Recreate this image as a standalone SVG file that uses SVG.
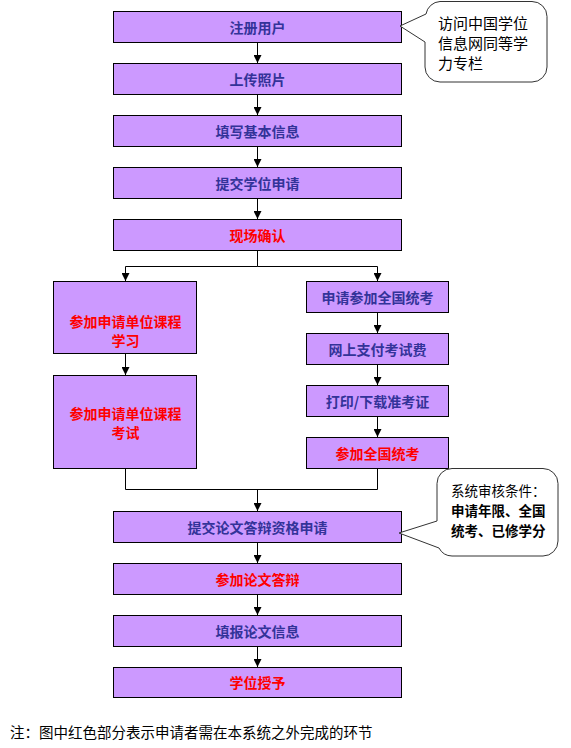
<svg xmlns="http://www.w3.org/2000/svg" width="571" height="748" viewBox="0 0 571 748">
<style>
.box{fill:#cc99ff;stroke:#000;stroke-width:1}
.t{font-family:"Noto Sans CJK SC","Liberation Sans",sans-serif;font-size:14px;font-weight:bold;text-anchor:middle;dominant-baseline:central}
.b{fill:#333399}
.r{fill:#ff0000}
.c{fill:none;stroke:#000;stroke-width:1}
.call{fill:#fff;stroke:#333;stroke-width:1}
.ct{font-family:"Noto Sans CJK SC","Liberation Sans",sans-serif;fill:#000;dominant-baseline:central}
</style>
<defs>
<marker id="ah" markerUnits="userSpaceOnUse" markerWidth="8" markerHeight="8" refX="8" refY="4" orient="auto">
<path d="M0,0 L8,4 L0,8 Z" fill="#000"/>
</marker>
</defs>
<rect width="571" height="748" fill="#fff"/>
<g id="connectors">
<line class="c" x1="257.5" y1="43" x2="257.5" y2="63" marker-end="url(#ah)"/>
<line class="c" x1="257.5" y1="95" x2="257.5" y2="115" marker-end="url(#ah)"/>
<line class="c" x1="257.5" y1="147" x2="257.5" y2="167" marker-end="url(#ah)"/>
<line class="c" x1="257.5" y1="199" x2="257.5" y2="219" marker-end="url(#ah)"/>
<polyline class="c" points="257.5,251 257.5,266.5 125.5,266.5 125.5,281" marker-end="url(#ah)"/>
<polyline class="c" points="257.5,266.5 377.5,266.5 377.5,281" marker-end="url(#ah)"/>
<line class="c" x1="125.5" y1="354" x2="125.5" y2="375" marker-end="url(#ah)"/>
<line class="c" x1="377.5" y1="313" x2="377.5" y2="333" marker-end="url(#ah)"/>
<line class="c" x1="377.5" y1="365" x2="377.5" y2="385" marker-end="url(#ah)"/>
<line class="c" x1="377.5" y1="417" x2="377.5" y2="437" marker-end="url(#ah)"/>
<polyline class="c" points="125.5,469 125.5,489.5 377.5,489.5 377.5,469"/>
<line class="c" x1="257.5" y1="489.5" x2="257.5" y2="511" marker-end="url(#ah)"/>
<line class="c" x1="257.5" y1="543" x2="257.5" y2="563" marker-end="url(#ah)"/>
<line class="c" x1="257.5" y1="595" x2="257.5" y2="615" marker-end="url(#ah)"/>
<line class="c" x1="257.5" y1="647" x2="257.5" y2="667" marker-end="url(#ah)"/>
</g>
<g id="n1"><rect class="box" x="113.5" y="11.5" width="288" height="31"/><text class="t b" x="257.5" y="27">注册用户</text></g>
<g id="n2"><rect class="box" x="113.5" y="63.5" width="288" height="31"/><text class="t b" x="257.5" y="79">上传照片</text></g>
<g id="n3"><rect class="box" x="113.5" y="115.5" width="288" height="31"/><text class="t b" x="257.5" y="131">填写基本信息</text></g>
<g id="n4"><rect class="box" x="113.5" y="167.5" width="288" height="31"/><text class="t b" x="257.5" y="183">提交学位申请</text></g>
<g id="n5"><rect class="box" x="113.5" y="219.5" width="288" height="31"/><text class="t r" x="257.5" y="235">现场确认</text></g>
<g id="n6"><rect class="box" x="53.5" y="281.5" width="143" height="72"/><text class="t r" x="125.5" y="321">参加申请单位课程</text><text class="t r" x="125.5" y="340">学习</text></g>
<g id="n7"><rect class="box" x="53.5" y="375.5" width="143" height="93"/><text class="t r" x="125.5" y="413">参加申请单位课程</text><text class="t r" x="125.5" y="432">考试</text></g>
<g id="n8"><rect class="box" x="306.5" y="281.5" width="142" height="31"/><text class="t b" x="377.5" y="297">申请参加全国统考</text></g>
<g id="n9"><rect class="box" x="306.5" y="333.5" width="142" height="31"/><text class="t b" x="377.5" y="349">网上支付考试费</text></g>
<g id="n10"><rect class="box" x="306.5" y="385.5" width="142" height="31"/><text class="t b" x="377.5" y="401">打印/下载准考证</text></g>
<g id="n11"><rect class="box" x="306.5" y="437.5" width="142" height="31"/><text class="t r" x="377.5" y="453">参加全国统考</text></g>
<g id="n12"><rect class="box" x="113.5" y="511.5" width="288" height="31"/><text class="t b" x="257.5" y="527">提交论文答辩资格申请</text></g>
<g id="n13"><rect class="box" x="113.5" y="563.5" width="288" height="31"/><text class="t r" x="257.5" y="579">参加论文答辩</text></g>
<g id="n14"><rect class="box" x="113.5" y="615.5" width="288" height="31"/><text class="t b" x="257.5" y="631">填报论文信息</text></g>
<g id="n15"><rect class="box" x="113.5" y="667.5" width="288" height="30"/><text class="t r" x="257.5" y="682">学位授予</text></g>
<g id="callout1">
<path class="call" d="M440,1.5 H532 A15,15 0 0 1 547,16.5 V67 A15,15 0 0 1 532,82 H440 A15,15 0 0 1 425,67 V42 L400,26 L426,14 A15,15 0 0 1 440,1.5 Z"/>
<text class="ct" font-size="15" x="438" y="22">访问中国学位</text>
<text class="ct" font-size="15" x="438" y="42">信息网同等学</text>
<text class="ct" font-size="15" x="438" y="62">力专栏</text>
</g>
<g id="callout2">
<path class="call" d="M452,468.5 H543 A15,15 0 0 1 558,483.5 V541 A15,15 0 0 1 543,556 H452 A15,15 0 0 1 439,548 L399,533 L437,521 V483.5 A15,15 0 0 1 452,468.5 Z"/>
<text class="ct" font-size="13.5" x="451" y="490">系统审核条件：</text>
<text class="ct" font-size="13.5" font-weight="bold" x="451" y="510">申请年限、全国</text>
<text class="ct" font-size="13.5" font-weight="bold" x="451" y="530">统考、已修学分</text>
</g>
<text id="note" class="ct" font-size="14.5" x="10" y="731">注：图中红色部分表示申请者需在本系统之外完成的环节</text>
</svg>
